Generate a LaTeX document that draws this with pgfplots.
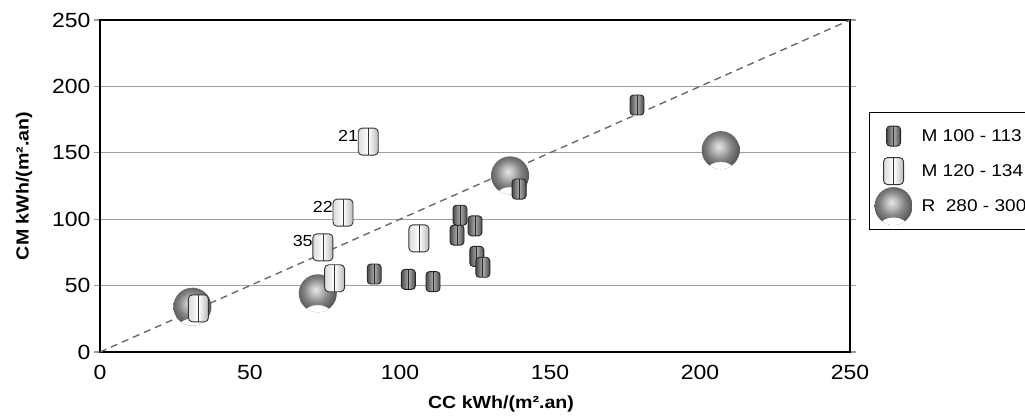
\documentclass[border=0pt]{standalone}
\usepackage{fontspec}
\setmainfont{Liberation Sans}[FakeStretch=1.12]
\usepackage{pgfplots}
\usepackage{pgfplotstable}
\pgfplotsset{compat=1.18}

\pgfdeclareradialshading{sph}{\pgfpoint{-3bp}{5bp}}{color(0bp)=(black!10); color(7bp)=(black!25); color(16bp)=(black!48); color(25bp)=(black!64); color(50bp)=(black!64)}

\tikzset{
  darkm/.style={rectangle, rounded corners=3.5pt, minimum width=14pt, minimum height=20pt, inner sep=0pt, anchor=center,
    draw=black!85, line width=0.9pt, left color=black!70, right color=black!72, middle color=black!32,
    path picture={\draw[black!85, line width=0.8pt] (path picture bounding box.north) -- (path picture bounding box.south);}},
  lightm/.style={rectangle, rounded corners=4pt, minimum width=20pt, minimum height=27pt, inner sep=0pt, anchor=center,
    draw=black!80, line width=0.9pt, left color=black!14, right color=black!28, middle color=white,
    path picture={\draw[black!80, line width=0.8pt] (path picture bounding box.north) -- (path picture bounding box.south);}},
  sphm/.style={circle, minimum size=38pt, inner sep=0pt, anchor=center, draw=none, shading=sph,
    path picture={\fill[white] ([yshift=-1pt]path picture bounding box.south) ellipse (13pt and 8pt);}},
}

\pgfplotstableread{
x y
30.8 34.1
72.6 44.2
136.7 133
206.9 152
}\sphdata

\pgfplotstableread{
x y
32.8 32.9
78.2 55.5
74.3 78.8
81 104.9
89.4 158.4
106.3 85.6
}\lightdata

\pgfplotstableread{
x y lab
74.3 78.8 35
81 104.9 22
89.4 158.4 21
}\labdata

\pgfplotstableread{
x y
91.4 58.7
102.8 54.7
111 53
119 88
120 103
125 95
125.6 72
127.6 63.8
139.7 122.7
179 186
}\darkdata

\begin{document}
\begin{tikzpicture}
\begin{axis}[
  at={(0pt,0pt)}, anchor=south west,
  scale only axis, width=750pt, height=332pt,
  xmin=0, xmax=250, ymin=0, ymax=250,
  xtick={0,50,...,250}, ytick={0,50,...,250},
  clip=false,
  axis line style={line width=2pt, black},
  ymajorgrids, grid style={black!38, line width=1.3pt},
  tick align=outside, major tick length=6pt,
  xtick style={draw=none},
  ytick style={black!38, line width=1.3pt},
  tick label style={font=\fontsize{20.5}{21}\selectfont},
  xticklabel style={yshift=-4pt},
  /pgf/number format/assume math mode=true,
  xlabel={\textbf{CC kWh/(m².an)}},
  ylabel={\textbf{CM kWh/(m².an)}},
  label style={font=\fontsize{17.5}{20}\selectfont},
  x label style={at={(axis description cs:0.5347,0)}, anchor=center, yshift=-52pt},
  y label style={at={(axis description cs:0,0.5)}, anchor=center, yshift=76pt},
  legend style={at={(axis description cs:1.0253,0.7229)}, anchor=north west,
    draw=black, line width=1.2pt, fill=white,
    inner xsep=15pt, inner ysep=6pt, nodes={inner sep=2pt},
    font=\fontsize{17}{20}\selectfont},
  legend cell align=left,
  reverse legend,
]
\addplot[only marks, mark=*, mark size=0pt, mark options={draw=none, fill=none},
  nodes near coords={}, every node near coord/.append style={sphm},
  legend image code/.code={\path[draw=none, fill=none] (0pt,-17.5pt) rectangle (35pt,17.5pt); \node[sphm, overlay] at (9pt,0pt) {};}]
  table[x=x, y=y] {\sphdata};
\addlegendentry{R\ \ 280 - 300}

\addplot[only marks, mark=*, mark size=0pt, mark options={draw=none, fill=none},
  nodes near coords={}, every node near coord/.append style={lightm},
  legend image code/.code={\path[draw=none, fill=none] (0pt,-17.5pt) rectangle (35pt,17.5pt); \node[lightm, overlay] at (9pt,0pt) {};}]
  table[x=x, y=y] {\lightdata};
\addlegendentry{M 120 - 134}

\addplot[forget plot, only marks, mark=*, mark size=0pt, mark options={draw=none, fill=none},
  scatter/use mapped color={draw=none, fill=none},
  point meta=explicit symbolic, nodes near coords,
  every node near coord/.append style={anchor=east, xshift=-10pt, yshift=6pt, inner sep=0pt, text=black, font=\fontsize{16}{16}\selectfont}]
  table[x=x, y=y, meta=lab] {\labdata};

\addplot[forget plot, black!58, line width=1.4pt, dash pattern=on 7pt off 5pt] coordinates {(0,0) (250,250)};

\addplot[only marks, mark=*, mark size=0pt, mark options={draw=none, fill=none},
  nodes near coords={}, every node near coord/.append style={darkm},
  legend image code/.code={\path[draw=none, fill=none] (0pt,-17.5pt) rectangle (35pt,17.5pt); \node[darkm, overlay] at (9pt,0pt) {};}]
  table[x=x, y=y] {\darkdata};
\addlegendentry{M 100 - 113}
\end{axis}
\pgfresetboundingbox
\path[use as bounding box] (-100pt,-67pt) rectangle (925pt,352pt);
\end{tikzpicture}
\end{document}
